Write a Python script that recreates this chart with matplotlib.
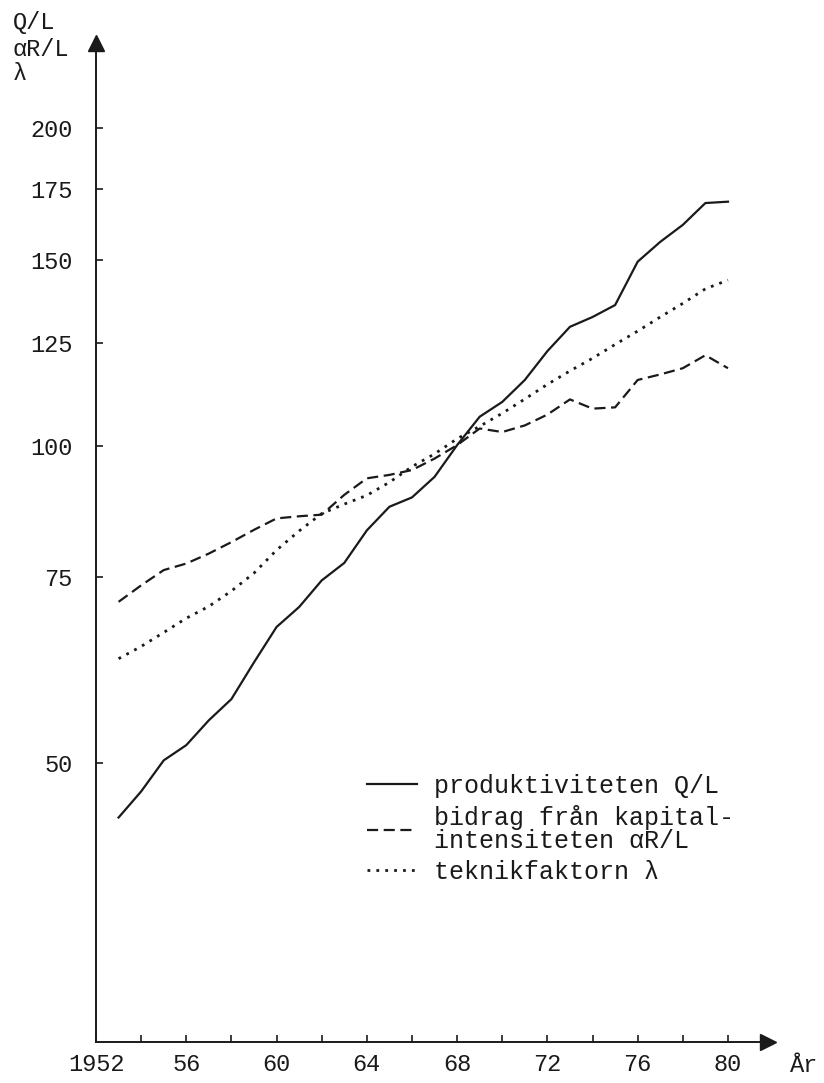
import matplotlib
matplotlib.use("Agg")
import matplotlib.pyplot as plt
from matplotlib.ticker import NullLocator

plt.rcParams['font.family'] = ['Liberation Mono', 'DejaVu Sans Mono']

years = list(range(1953, 1981))
q_l = [44.4, 47.0, 50.3, 52.0, 54.9, 57.5, 62.3, 67.3, 70.3, 74.5,
       77.4, 83.1, 87.5, 89.3, 93.4, 100.1, 106.5, 110.0, 115.4, 122.9,
       129.6, 132.4, 135.9, 149.4, 156.0, 161.9, 169.8, 170.3]
ar_l = [71.1, 73.7, 76.2, 77.3, 79.0, 81.0, 83.2, 85.3, 85.7, 86.0,
        89.8, 93.1, 93.8, 94.8, 97.2, 100.1, 103.8, 103.0, 104.5, 107.0,
        110.6, 108.4, 108.7, 115.4, 116.8, 118.4, 121.8, 118.4]
lam = [62.8, 64.5, 66.5, 68.6, 70.4, 72.8, 75.7, 79.6, 83.0, 86.2,
       88.0, 89.7, 92.3, 95.5, 98.2, 101.5, 104.3, 107.3, 110.7, 114.3,
       117.7, 121.0, 124.7, 128.4, 132.4, 136.4, 140.8, 143.5]

y_ticks = [50, 75, 100, 125, 150, 175, 200]
x_ticks = list(range(1952, 1981, 2))
x_labels = ['1952' if t == 1952 else (str(t)[2:] if t % 4 == 0 else '') for t in x_ticks]

labels = ['produktiviteten Q/L',
          'bidrag från kapital-\nintensiteten αR/L',
          'teknikfaktorn λ']

W, H = 824, 1083
fig = plt.figure(figsize=(W / 100, H / 100), dpi=100)
ax = fig.add_axes([96 / W, (H - 1042) / H, 672 / W, (1042 - 43) / H])

ink = '#1a1a1a'
ax.plot(years, q_l, color=ink, lw=1.6, label=labels[0])
ax.plot(years, ar_l, color=ink, lw=1.6, ls=(0, (5, 2.5)), label=labels[1])
ax.plot(years, lam, color=ink, lw=2.0, ls=(0, (1, 2.2)), label=labels[2])

ax.set_yscale('log')
ax.set_xlim(1952, 1952 + 672 / 22.57)
ax.set_ylim(27.2, 240.8)
ax.set_yticks(y_ticks)
ax.set_yticklabels([str(v) for v in y_ticks])
ax.yaxis.set_minor_locator(NullLocator())
ax.set_xticks(x_ticks)
ax.set_xticklabels(x_labels)

for s in ['top', 'right']:
    ax.spines[s].set_visible(False)
for s in ['left', 'bottom']:
    ax.spines[s].set_linewidth(1.4)
    ax.spines[s].set_color(ink)
ax.tick_params(axis='both', direction='in', length=5, width=1.2, colors=ink,
               labelsize=17)
ax.tick_params(axis='y', pad=17)
ax.tick_params(axis='x', pad=8)

# arrow heads on the axes
ax.plot(0, 1, marker='^', ms=11, color=ink, transform=ax.transAxes, clip_on=False)
ax.plot(1, 0, marker='>', ms=11, color=ink, transform=ax.transAxes, clip_on=False)

fig.text(13 / W, 1 - 22 / H, 'Q/L', fontsize=17, va='center', ha='left', color=ink)
fig.text(13 / W, 1 - 49 / H, 'αR/L', fontsize=17, va='center', ha='left', color=ink)
fig.text(13 / W, 1 - 73 / H, 'λ', fontsize=17, va='center', ha='left', color=ink)
fig.text(790 / W, 1 - 1066 / H, 'År', fontsize=17, va='center', ha='left', color=ink)

leg = ax.legend(loc='upper left', bbox_to_anchor=(367 / W, 1 - 774 / H),
                bbox_transform=fig.transFigure, frameon=False, fontsize=18,
                handlelength=2.0, handletextpad=0.7, labelspacing=0.3,
                borderpad=0, borderaxespad=0)
for t in leg.get_texts():
    t.set_linespacing(0.9)
    t.set_color(ink)

fig.savefig('out.png', dpi=100)
